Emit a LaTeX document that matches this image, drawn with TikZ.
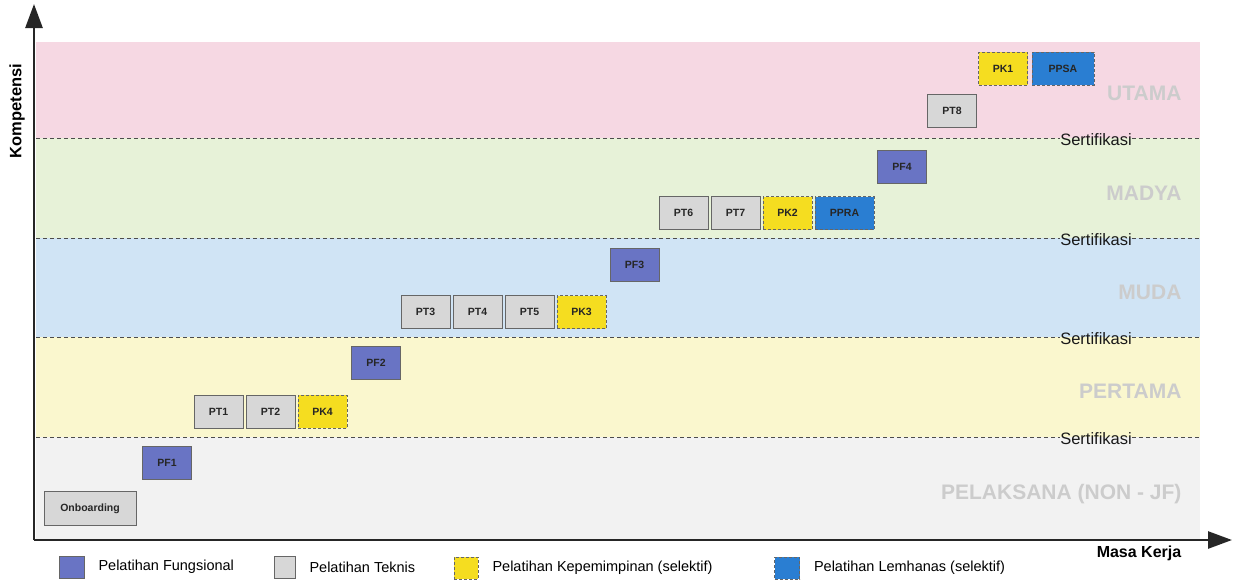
\documentclass[tikz,border=0pt]{standalone}
\usepackage{fontspec}
\setmainfont{Liberation Sans}
\usepackage{xcolor}
\usetikzlibrary{arrows.meta,positioning}

\definecolor{bandutama}{RGB}{246,216,227}
\definecolor{bandmadya}{RGB}{231,242,216}
\definecolor{bandmuda}{RGB}{208,228,245}
\definecolor{bandpertama}{RGB}{250,247,206}
\definecolor{bandpelaksana}{RGB}{242,242,242}
\definecolor{colfung}{RGB}{105,116,196}
\definecolor{coltek}{RGB}{215,215,215}
\definecolor{colpimp}{RGB}{245,221,32}
\definecolor{collem}{RGB}{42,126,210}

\begin{document}
\begin{tikzpicture}[x=1pt, y=-1pt, node distance=3pt, every node/.style={font=\fontsize{10.5}{12}\selectfont\bfseries}, box/.style={draw=black!60, line width=0.8pt, minimum width=49pt, minimum height=33pt, inner sep=0pt, outer sep=0pt, text=black!85}, fung/.style={box, fill=colfung}, tek/.style={box, fill=coltek}, pimp/.style={box, fill=colpimp, dash pattern=on 3pt off 2pt}, lem/.style={box, fill=collem, dash pattern=on 3pt off 2pt}, level/.style={font=\fontsize{21}{24}\selectfont\bfseries, text=black!20, anchor=base east}, sert/.style={font=\fontsize{16.5}{19}\selectfont, text=black!90, anchor=base, inner sep=0pt}, sertline/.style={draw=black!70, line width=0.7pt, dash pattern=on 4pt off 3pt}, axis/.style={line width=2.6pt, draw=black!85, -{Triangle[length=24pt,width=17pt]}}, legtxt/.style={font=\fontsize{14.5}{16}\selectfont, anchor=west}]
\useasboundingbox[fill=white] (0,0) rectangle (1236,582);
% bands for every level
\fill[bandutama] (36,42) rectangle (1200,138);
\fill[bandmadya] (36,138) rectangle (1200,238);
\fill[bandmuda] (36,238) rectangle (1200,337);
\fill[bandpertama] (36,337) rectangle (1200,437);
\fill[bandpelaksana] (36,437) rectangle (1200,540);
\foreach \y/\n in {138/s1,238/s2,337/s3,437/s4}{
  \node[sert] (\n) at (1096,\y+7) {Sertifikasi};
  \draw[sertline] (36,\y) -- (\n.west |- 0,\y);
  \draw[sertline] (\n.east |- 0,\y) -- (1200,\y);
}
\node[level] (utama) at (1185,100) {UTAMA};
\node[level] (madya) at (1185,200) {MADYA};
\node[level] (muda) at (1185,299) {MUDA};
\node[level] (pertama) at (1185,398) {PERTAMA};
\node[level] (pelaksana) at (1185,499) {PELAKSANA (NON - JF)};
% axes
\coordinate (origin) at (34,540);
\coordinate (ytip) at (34,4);
\coordinate (xtip) at (1232,540);
\draw[axis] (origin) -- (ytip);
\draw[axis] (origin) -- (xtip);
\node[rotate=90, font=\fontsize{16.5}{18}\selectfont\bfseries] (ylabel) at (17,111) {Kompetensi};
\node[font=\fontsize{16}{18}\selectfont\bfseries] (xlabel) at (1139,553) {Masa Kerja};
% trainings
\node[tek, minimum width=92pt, minimum height=34pt, text depth=0pt] (onb) at (90,508) {Onboarding};
\node[fung] (pf1) at (167,463) {PF1};
\node[tek] (pt1) at (218.5,411.5) {PT1};
\node[tek, right=of pt1] (pt2) {PT2};
\node[pimp, right=of pt2] (pk4) {PK4};
\node[fung] (pf2) at (376,363) {PF2};
\node[tek] (pt3) at (425.5,312) {PT3};
\node[tek, right=of pt3] (pt4) {PT4};
\node[tek, right=of pt4] (pt5) {PT5};
\node[pimp, right=of pt5] (pk3) {PK3};
\node[fung] (pf3) at (634.5,265) {PF3};
\node[tek] (pt6) at (683.5,213) {PT6};
\node[tek, right=of pt6] (pt7) {PT7};
\node[pimp, right=of pt7] (pk2) {PK2};
\node[lem, right=of pk2, minimum width=59pt] (ppra) {PPRA};
\node[fung] (pf4) at (902,167) {PF4};
\node[tek] (pt8) at (952,111) {PT8};
\node[pimp] (pk1) at (1003,68.5) {PK1};
\node[lem, right=4.5pt of pk1, minimum width=62pt] (ppsa) {PPSA};
% legend
\node[fung, minimum width=25pt, minimum height=22pt] (lgfung) at (71.5,567) {};
\node[legtxt, right=11pt of lgfung] (lgfungtxt) {Pelatihan Fungsional};
\node[tek, minimum width=21pt, minimum height=22pt] (lgtek) at (284.5,567) {};
\node[legtxt, right=11pt of lgtek] (lgtektxt) {Pelatihan Teknis};
\node[pimp, minimum width=24pt, minimum height=22pt] (lgpimp) at (466,568) {};
\node[legtxt, right=11pt of lgpimp] (lgpimptxt) {Pelatihan Kepemimpinan (selektif)};
\node[lem, minimum width=25pt, minimum height=22pt] (lglem) at (787,568) {};
\node[legtxt, right=11pt of lglem] (lglemtxt) {Pelatihan Lemhanas (selektif)};
\end{tikzpicture}
\end{document}
